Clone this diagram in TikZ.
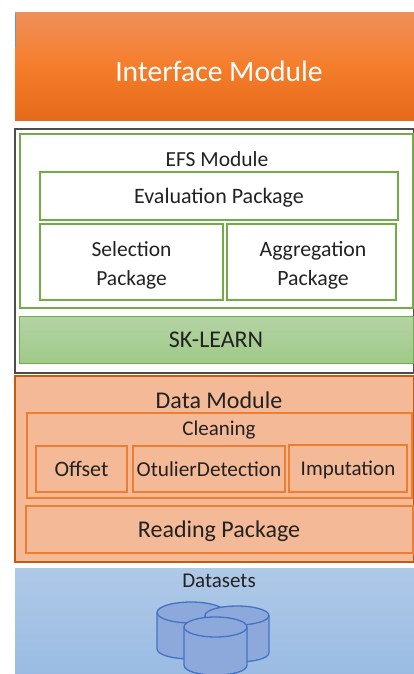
\documentclass[tikz,border=0pt]{standalone}
\usepackage{fontspec}
\setmainfont{Carlito}
\usetikzlibrary{positioning}
\definecolor{effgreen}{HTML}{70AD47}
\definecolor{efforange}{HTML}{ED7D31}
\definecolor{effdark}{HTML}{C55A11}
\definecolor{effblue}{HTML}{4472C4}
\definecolor{effink}{HTML}{222222}
\definecolor{dbfill}{HTML}{8DA9DB}
\tikzstyle{block} = [rectangle, inner sep=0pt, text=effink, align=center]
\tikzstyle{greenblock} = [block, draw=effgreen, line width=2pt]
\tikzstyle{orangeblock} = [block, draw=efforange, line width=2pt]
\tikzstyle{title} = [inner sep=0pt, text=effink, align=center]
\tikzstyle{database} = [draw=effblue, fill=dbfill, line width=1.3pt]
% radius, side length, cap radius
\tikzset{pics/dbcyl/.style n args={3}{code={
    \draw [database] (-#1,0) -- (-#1,#2) .. controls (-#1,#2+1.33*#3) and (#1,#2+1.33*#3) .. (#1,#2) -- (#1,0);
    \draw [database] (0,0) ellipse [x radius=#1, y radius=#3];
}}}

\begin{document}
\begin{tikzpicture}[x=1pt, y=-1pt]
        \useasboundingbox (0,0) rectangle (414,674);

        % top layer
        \node [block, minimum width=399pt, minimum height=108pt, top color={rgb,255:red,240;green,143;blue,89}, bottom color={rgb,255:red,229;green,105;blue,26}, middle color={rgb,255:red,245;green,125;blue,42}] (interface) at (214.5,67) {};
        \node [title, text=white, font=\fontsize{29.6}{35}\selectfont] (interfacetitle) at (219,71) {Interface Module};
        \draw [color={rgb,255:red,91;green,155;blue,213}, line width=1pt] (15.5,13) -- (15.5,47);

        % efs layer
        \node [block, draw=black!70, line width=1.4pt, minimum width=399pt, minimum height=244pt] (outer) at (214.5,251) {};
        \node [greenblock, minimum width=393pt, minimum height=174pt] (efs) at (216.5,221) {};
        \node [title, font=\fontsize{21.5}{26}\selectfont] (efstitle) at (217,159) {EFS Module};
        \node [greenblock, minimum width=358pt, minimum height=48pt, text depth=0pt, font=\fontsize{22}{26}\selectfont] (evaluation) at (219,196) {Evaluation Package};
        \node [greenblock, minimum width=183pt, minimum height=76pt] (selection) at (131.5,262) {};
        \node [title, font=\fontsize{21.5}{29}\selectfont] (selectiontitle) at (131.5,265.5) {Selection\\Package};
        \node [greenblock, minimum width=169pt, minimum height=76pt] (aggregation) at (311.5,262) {};
        \node [title, font=\fontsize{21.8}{29}\selectfont] (aggregationtitle) at (313,265.5) {Aggregation\\Package};
        \node [block, draw=effgreen, line width=0.8pt, minimum width=394pt, minimum height=47pt, top color={rgb,255:red,179;green,211;blue,164}, bottom color={rgb,255:red,160;green,202;blue,136}, font=\fontsize{24}{28}\selectfont] (sklearn) at (216,340) {SK-LEARN};

        % data layer
        \node [block, draw=effdark, line width=1.6pt, fill={rgb,255:red,244;green,185;blue,150}, minimum width=399pt, minimum height=186pt] (data) at (214.5,469) {};
        \node [title, font=\fontsize{24}{28}\selectfont] (datatitle) at (219,400) {Data Module};
        \node [orangeblock, minimum width=385pt, minimum height=85pt] (cleaning) at (219.5,455.5) {};
        \node [title, text depth=0pt, font=\fontsize{21}{25}\selectfont] (cleaningtitle) at (219,428) {Cleaning};
        \node [orangeblock, minimum width=91pt, minimum height=46pt, font=\fontsize{22}{26}\selectfont] (offset) at (81.5,469) {Offset};
        \node [orangeblock, minimum width=152pt, minimum height=46pt, font=\fontsize{21.3}{25}\selectfont] (outlier) at (209,469) {OtulierDetection};
        \node [orangeblock, minimum width=118pt, minimum height=47pt, text depth=0pt, font=\fontsize{21}{25}\selectfont] (imputation) at (348,468) {Imputation};
        \node [orangeblock, minimum width=387pt, minimum height=47pt, text depth=0pt, font=\fontsize{24}{28}\selectfont] (reading) at (219,529.5) {Reading Package};

        % datasets layer
        \node [block, minimum width=399pt, minimum height=108pt, top color={rgb,255:red,175;green,201;blue,231}, bottom color={rgb,255:red,154;green,187;blue,227}, anchor=north] (datasets) at (214.5,568) {};
        \node [title, font=\fontsize{21}{25}\selectfont] (datasetstitle) at (219,581) {Datasets};
        \pic (dbleft) at (191,612.5) {dbcyl={34}{36}{10.5}};
        \pic (dbright) at (237,615.5) {dbcyl={32}{37}{9.5}};
        \pic (dbfront) at (215.5,627) {dbcyl={31.5}{38}{10}};
    \end{tikzpicture}
\end{document}
